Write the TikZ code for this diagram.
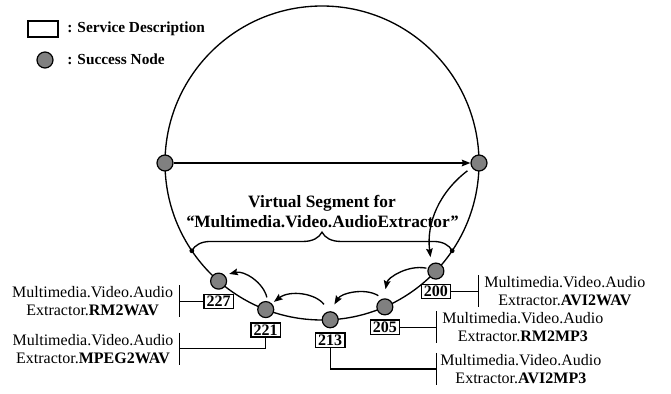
\documentclass[tikz,border=0pt]{standalone}
\usepackage{fontspec}
\setmainfont{Liberation Serif}
\usetikzlibrary{calc,positioning,arrows.meta,decorations.pathreplacing}
\definecolor{nodegray}{RGB}{128,128,128}
\tikzset{>={Stealth[width=5pt,length=6.5pt,inset=1pt]}}
\tikzset{succ/.style = {draw, circle, fill=nodegray, line width=0.9pt,
                  minimum size=12pt, inner sep=0pt},
        sdbox/.style = {draw, rectangle, fill=white, line width=1pt,
                  inner xsep=2pt, inner ysep=1.2pt, text height=8.2pt, text depth=0pt,
                  font=\fontsize{12}{12}\selectfont\bfseries},
        desc/.style = {align=center, inner sep=0pt, font=\fontsize{12}{13.5}\selectfont},
        lnk/.style = {line width=1pt},
        hop/.style = {->, line width=1pt}
    }

\begin{document}
\begin{tikzpicture}[x=0.75pt,y=0.75pt]
    \tikzstyle{legtxt} = [anchor=west, inner sep=0pt, font=\fontsize{11.5}{12}\selectfont\bfseries]
    \tikzstyle{vseg} = [align=center, inner sep=0pt, font=\fontsize{13}{15}\selectfont\bfseries]

    \useasboundingbox (0,0) rectangle (671,393);

    % legend
    \node[draw, rectangle, line width=1pt, minimum width=22.5pt, minimum height=12pt, inner sep=0pt] (legbox) at (43,364) {};
    \node[legtxt] (legboxtxt) at (67,364) {: Service Description};
    \node[succ] (legnode) at (45,333) {};
    \node[legtxt] (legnodetxt) at (67,334) {: Success Node};

    % ring
    \coordinate (c) at (322,230);
    \draw[line width=1pt] (c) circle[radius=117.75pt];

    \node[succ] (nL) at ($(c)+(180:157)$) {};
    \node[succ] (nR) at ($(c)+(0:157)$) {};
    \node[succ] (n200) at ($(c)+(-43.5:157)$) {};
    \node[succ] (n205) at ($(c)+(-66.4:157)$) {};
    \node[succ] (n213) at ($(c)+(-87:157)$) {};
    \node[succ] (n221) at ($(c)+(-111:157)$) {};
    \node[succ] (n227) at ($(c)+(-131.2:157)$) {};

    % virtual segment
    \coordinate (dL) at ($(c)+(-146:157)$);
    \coordinate (dR) at ($(c)+(-34:157)$);
    \fill (dL) circle[radius=1.8pt];
    \fill (dR) circle[radius=1.8pt];
    \draw[decorate, decoration={brace, amplitude=14pt}, line width=1pt] (dL) -- (dR);
    \node[vseg] (vs) at (322,181) {Virtual Segment for\\\textit{“}Multimedia.Video.AudioExtractor\textit{”}};

    % hops
    \draw[hop] (nL) -- (nR);
    \draw[hop, shorten <=4pt, shorten >=5pt] (nR.212) to[bend right=30] (n200.122);
    \draw[hop, shorten <=1pt, shorten >=7pt] (n200.162) to[bend right=45] (n205.97);
    \draw[hop, shorten <=4pt, shorten >=6pt] (n205.103) to[bend right=45] (n213.90);
    \draw[hop, shorten <=6.5pt, shorten >=2pt] (n213.97) to[bend right=45] (n221.45);
    \draw[hop, shorten <=3pt, shorten >=3.5pt] (n221.76) to[bend right=45] (n227.45);

    % service descriptions
    \node[sdbox, below=3pt of n200] (b200) {200};
    \node[sdbox, below=3pt of n205] (b205) {205};
    \node[sdbox, below=3pt of n213] (b213) {213};
    \node[sdbox, below=3pt of n221] (b221) {221};
    \node[sdbox, below=3pt of n227] (b227) {227};

    \coordinate (j227) at ($(b227.west)+(-24,0)$);
    \coordinate (j221) at ($(b221.south)+(-86,-11)$);
    \coordinate (j200) at ($(b200.east)+(27,0)$);
    \coordinate (j205) at ($(b205.east)+(36,0)$);
    \coordinate (j213) at ($(b213.south)+(106,-21)$);

    \draw[lnk] (b227.west) -- (j227);
    \draw[lnk] (b221.south) |- (j221);
    \draw[lnk] (b200.east) -- (j200);
    \draw[lnk] (b205.east) -- (j205);
    \draw[lnk] (b213.south) |- (j213);
    \foreach \j in {j227,j221,j200,j205,j213}
      \draw[lnk] ($(\j)+(0,16)$) -- ($(\j)+(0,-16)$);

    \node[desc, left=4.5pt of j227] (t227) {Multimedia.Video.Audio\\Extractor.\textbf{RM2WAV}};
    \node[desc, left=4.5pt of j221] (t221) {Multimedia.Video.Audio\\Extractor.\textbf{MPEG2WAV}};
    \node[desc, right=4.5pt of j200] (t200) {Multimedia.Video.Audio\\Extractor.\textbf{AVI2WAV}};
    \node[desc, right=4.5pt of j205] (t205) {Multimedia.Video.Audio\\Extractor.\textbf{RM2MP3}};
    \node[desc, right=3pt of j213] (t213) {Multimedia.Video.Audio\\Extractor.\textbf{AVI2MP3}};
\end{tikzpicture}
\end{document}
